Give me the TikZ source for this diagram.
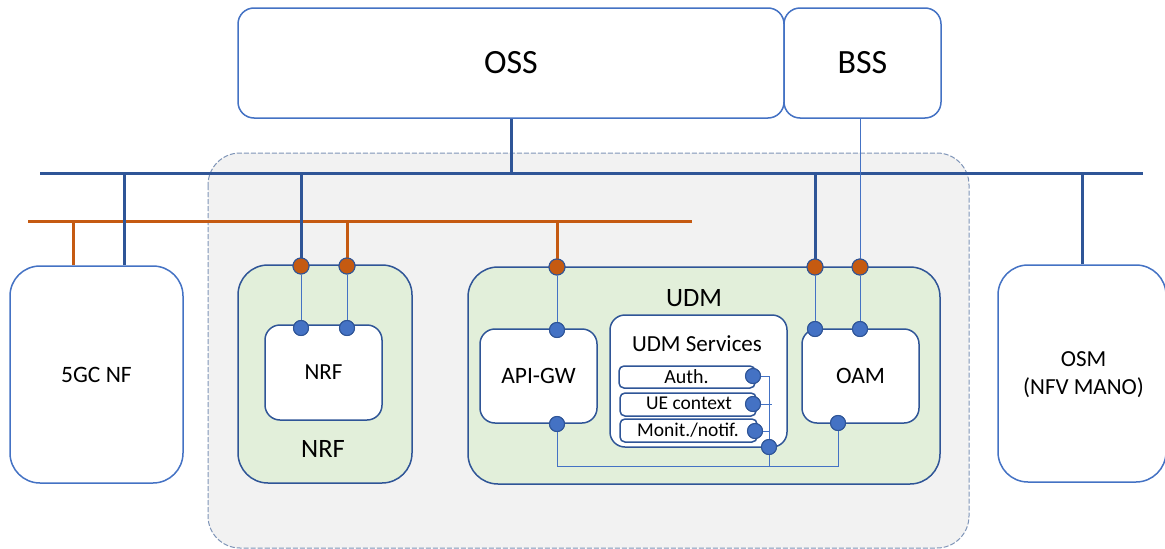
\documentclass[tikz,border=0pt]{standalone}
\usepackage{fontspec}
\setmainfont{Carlito}
\definecolor{dkblue}{HTML}{2F5597}
\definecolor{mdblue}{HTML}{4472C4}
\definecolor{orng}{HTML}{C55A11}
\definecolor{grnfill}{HTML}{E2EFDA}
\definecolor{bggray}{HTML}{F2F2F2}
\definecolor{dashc}{HTML}{7F95B8}
\newcommand{\fs}[1]{\fontsize{#1}{29}\selectfont}
\tikzset{
  topbox/.style={draw=mdblue, line width=1.5, fill=white, rounded corners=16, inner sep=0},
  outerbox/.style={draw=mdblue, line width=1.5, fill=white, rounded corners=30, inner sep=0},
  grnbox/.style={draw=dkblue, line width=1.5, fill=grnfill, rounded corners=30, inner sep=0},
  wbox/.style={draw=dkblue, line width=1.5, fill=white, rounded corners=15, inner sep=0},
  subbox/.style={draw=dkblue, line width=1.5, fill=white, rounded corners=5, inner sep=0},
  grayarea/.style={draw=dashc, line width=1, dash pattern=on 5 off 2, fill=bggray, rounded corners=32},
  bluebus/.style={draw=dkblue, line width=3},
  orngbus/.style={draw=orng, line width=3},
  thin/.style={draw=mdblue, line width=1},
  bdot/.style={circle, fill=mdblue, draw=dkblue, line width=1, minimum size=15, inner sep=0},
  odot/.style={circle, fill=orng, draw=dkblue, line width=1, minimum size=16, inner sep=0},
  lbl/.style={inner sep=0, text=black}
}
\begin{document}
\begin{tikzpicture}[x=1pt,y=-1pt]
\useasboundingbox[fill=white] (0,0) rectangle (1165,549);

% shared area around NRF and UDM
\path[grayarea] (208,153) rectangle (969,548);

% management systems
\node[topbox, minimum width=546, minimum height=110] (oss) at (511,63) {\fs{34}OSS};
\node[topbox, minimum width=157, minimum height=110] (bss) at (862.5,63) {\fs{34}BSS};

% external functions
\node[outerbox, minimum width=173, minimum height=217] (ngc) at (96.5,374.5) {\fs{23.5}5GC NF};
\node[outerbox, minimum width=168, minimum height=217] (osm) at (1082,373.5) {};
\node[lbl, align=center, font={\fontsize{23}{28}\selectfont}] (osmlbl) at (1083.5,375) {OSM\\(NFV MANO)};

% NRF
\node[grnbox, minimum width=174, minimum height=218] (nrfo) at (325,374) {};
\node[lbl] (nrflbl) at (323,449) {\fs{26.5}NRF};
\node[wbox, minimum width=117, minimum height=95] (nrf) at (323.5,372.5) {\fs{23}NRF};

% UDM
\node[grnbox, minimum width=472, minimum height=217] (udm) at (704,375.5) {};
\node[lbl] (udmlbl) at (694,298) {\fs{26.5}UDM};
\node[wbox, minimum width=117, minimum height=94] (api) at (538.5,376) {\fs{23.5}API-GW};
\node[wbox, minimum width=117, minimum height=94] (oam) at (860.5,376) {\fs{23.5}OAM};
\node[wbox, minimum width=177, minimum height=132] (svc) at (698.5,381) {};
\node[lbl] (svclbl) at (697,344) {\fs{23}UDM Services};
\node[subbox, minimum width=136, minimum height=22] (auth) at (687,377) {};
\node[subbox, minimum width=136, minimum height=23] (uec) at (688,404.5) {};
\node[subbox, minimum width=137, minimum height=23] (mon) at (688.5,430.5) {};
\node[lbl] (authlbl) at (686.5,376.5) {\fs{20}Auth.};
\node[lbl] (ueclbl) at (689,403.5) {\fs{19.5}UE context};
\node[lbl] (monlbl) at (688,430.5) {\fs{19.5}Monit./notif.};

% bus coordinates
\coordinate (bbL) at (40,173);
\coordinate (bbR) at (1143,173);
\coordinate (obL) at (28,221);
\coordinate (obR) at (692,221);
\coordinate (lowL) at (557,466);
\coordinate (lowR) at (838,466);
\coordinate (svcbus) at (769,466);

% attachment points
\node[odot] (nrfo1) at (301,266) {};
\node[odot] (nrfo2) at (347,266) {};
\node[bdot] (nrfi1) at (301,328) {};
\node[bdot] (nrfi2) at (347,328) {};
\node[odot] (udmo1) at (557,267) {};
\node[odot] (udmo2) at (815,267) {};
\node[odot] (udmo3) at (860,267) {};
\node[bdot] (apit) at (557,330) {};
\node[bdot] (apib) at (557,424) {};
\node[bdot] (oamt1) at (815,329) {};
\node[bdot] (oamt2) at (860,329) {};
\node[bdot] (oamb) at (838,423) {};
\node[bdot] (authd) at (753,376) {};
\node[bdot] (uecd) at (753,404) {};
\node[bdot] (mond) at (755,431) {};
\node[bdot] (svcd) at (769,447) {};

% buses
\draw[bluebus] (bbL) -- (bbR);
\draw[orngbus] (obL) -- (obR);

% blue bus drops
\draw[bluebus] (oss.south) -- (oss.south |- bbL);
\draw[bluebus] (ngc.north -| 124,0) -- (124,0 |- bbL);
\draw[bluebus] (osm.north) -- (osm.north |- bbL);
\draw[bluebus] (nrfo1.north) -- (nrfo1 |- bbL);
\draw[bluebus] (udmo2.north) -- (udmo2 |- bbL);

% orange bus drops
\draw[orngbus] (ngc.north -| 73,0) -- (73,0 |- obL);
\draw[orngbus] (nrfo2.north) -- (nrfo2 |- obL);
\draw[orngbus] (udmo1.north) -- (udmo1 |- obL);

% thin links
\draw[thin] (bss.south -| udmo3) -- (udmo3.north);
\draw[thin] (nrfo1) -- (nrfi1);
\draw[thin] (nrfo2) -- (nrfi2);
\draw[thin] (udmo1) -- (apit);
\draw[thin] (udmo2) -- (oamt1);
\draw[thin] (udmo3) -- (oamt2);
\draw[thin] (apib) |- (lowL) -- (lowR) -- (oamb);
\draw[thin] (authd.center) -- (authd.center -| svcbus) -- (svcbus);
\draw[thin] (uecd.center) -- ([xshift=3]uecd.center -| svcbus);
\draw[thin] (mond.center) -- (mond.center -| svcbus);

% redraw dots above the links
\foreach \d in {nrfo1,nrfo2,udmo1,udmo2,udmo3}
  \node[odot] at (\d) {};
\foreach \d in {nrfi1,nrfi2,apit,apib,oamt1,oamt2,oamb,authd,uecd,mond,svcd}
  \node[bdot] at (\d) {};
\end{tikzpicture}
\end{document}
